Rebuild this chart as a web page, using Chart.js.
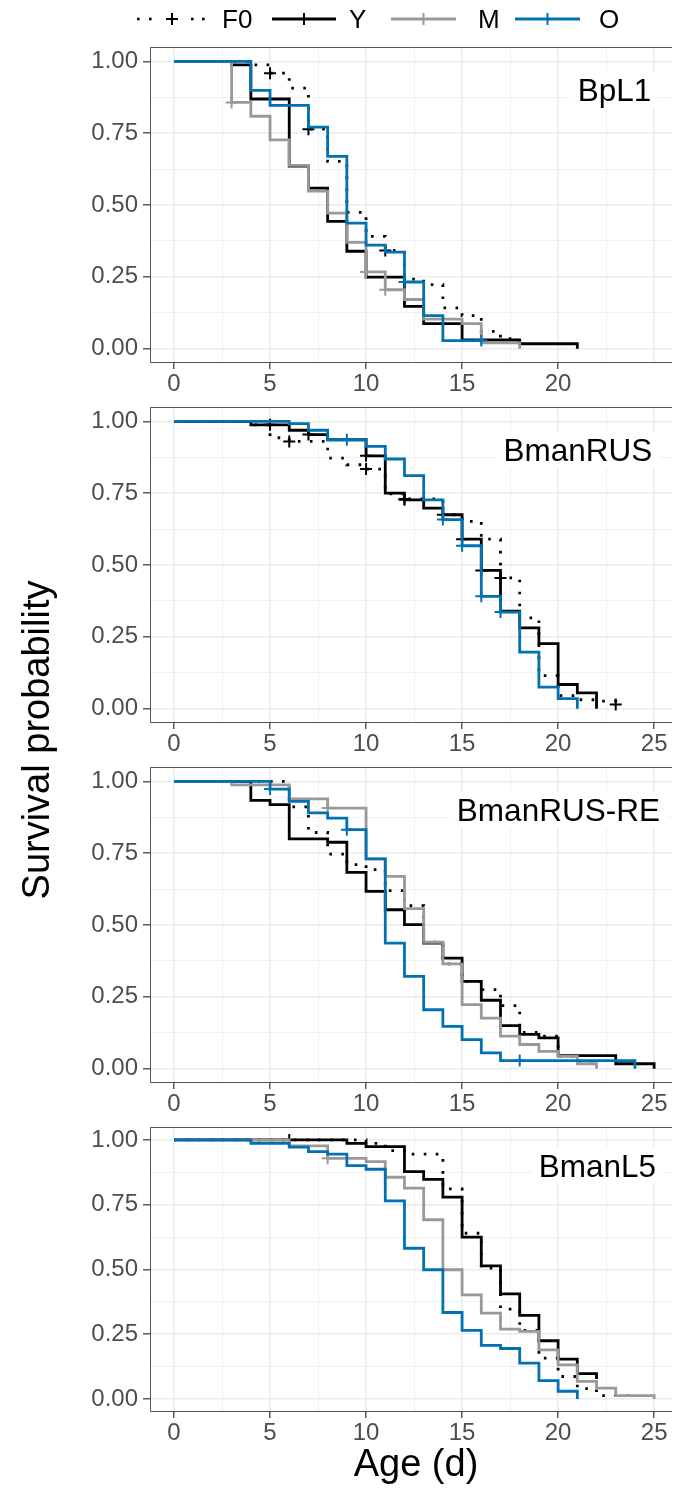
<!DOCTYPE html>
<html lang="en">
<head>
<meta charset="UTF-8">
<title>Survival probability by age</title>
<script src="https://cdn.jsdelivr.net/npm/chart.js@4.4.0/dist/chart.umd.min.js"></script>
<style>
  body { margin: 0; background: #fff; }
  #page { position: relative; width: 680px; height: 1490px; overflow: hidden; background: #fff; }
  #page canvas { position: absolute; left: 0; }
  #overlay { position: absolute; left: 0; top: 0; }
</style>
</head>
<body>
<div id="page">
  <canvas id="c1"></canvas>
  <canvas id="c2"></canvas>
  <canvas id="c3"></canvas>
  <canvas id="c4"></canvas>
  <svg id="overlay" width="680" height="1490" font-family="Liberation Sans, Arial, sans-serif">
    <!-- legend -->
    <g fill="#000">
      <rect x="137" y="17.7" width="2.6" height="2.6"/>
      <rect x="149" y="17.7" width="2.6" height="2.6"/>
      <rect x="191" y="17.7" width="2.6" height="2.6"/>
      <rect x="202" y="17.7" width="2.6" height="2.6"/>
    </g>
    <path d="M166 19h12M172 13v12" stroke="#000" stroke-width="2" fill="none"/>
    <text x="222" y="28.3" font-size="26" fill="#000">F0</text>
    <path d="M272 19h64" stroke="#000" stroke-width="2.8"/>
    <path d="M298 19h12M304 13v12" stroke="#000" stroke-width="2"/>
    <text x="349" y="28.3" font-size="26" fill="#000">Y</text>
    <path d="M391 19h65" stroke="#999999" stroke-width="2.8"/>
    <path d="M417.5 19h12M423.5 13v12" stroke="#999999" stroke-width="2"/>
    <text x="478" y="28.3" font-size="26" fill="#000">M</text>
    <path d="M515 19h65" stroke="#0072B2" stroke-width="2.8"/>
    <path d="M541.5 19h12M547.5 13v12" stroke="#0072B2" stroke-width="2"/>
    <text x="599" y="28.3" font-size="26" fill="#000">O</text>
    <!-- axis titles -->
    <text x="0" y="0" font-size="38" fill="#000" text-anchor="middle"
          transform="translate(49,740) rotate(-90)">Survival probability</text>
    <text x="416" y="1476" font-size="38" fill="#000" text-anchor="middle">Age (d)</text>
  </svg>
</div>

<script>
// ---- axis ticks ----
const xGrid = [0, 2.5, 5, 7.5, 10, 12.5, 15, 17.5, 20, 22.5, 25];
const ageLabels = [0, 5, 10, 15, 20, 25];
const ageLabelsTop = [0, 5, 10, 15, 20];
const yGrid = [0, 0.125, 0.25, 0.375, 0.5, 0.625, 0.75, 0.875, 1];
const survLabels = [0, 0.25, 0.5, 0.75, 1];

const groups = ['F0', 'Y', 'M', 'O'];
const panelNames = ['BpL1', 'BmanRUS', 'BmanRUS-RE', 'BmanL5'];

// ---- BpL1 ----
const bpl1F0Time = [0, 4, 5, 6, 7, 8, 9, 10, 11, 12, 13, 14, 15, 16, 17, 18];
const bpl1F0Surv = [1, 0.988, 0.959, 0.907, 0.764, 0.652, 0.474, 0.391, 0.342, 0.242, 0.223, 0.142, 0.115, 0.06, 0.035, 0];
const bpl1F0Cens = [5, 7, 11];
const bpl1YTime = [0, 3, 4, 6, 7, 8, 9, 10, 12, 13, 15, 18, 21];
const bpl1YSurv = [1, 0.988, 0.869, 0.635, 0.559, 0.443, 0.339, 0.249, 0.147, 0.087, 0.03, 0.017, 0];
const bpl1YCens = [];
const bpl1MTime = [0, 3, 4, 5, 6, 7, 8, 9, 10, 11, 12, 13, 15, 16, 18];
const bpl1MSurv = [1, 0.857, 0.809, 0.727, 0.638, 0.548, 0.472, 0.37, 0.267, 0.205, 0.171, 0.103, 0.087, 0.02, 0];
const bpl1MCens = [3, 10, 11];
const bpl1OTime = [0, 4, 5, 7, 8, 9, 10, 11, 12, 13, 14, 16];
const bpl1OSurv = [1, 0.899, 0.847, 0.771, 0.669, 0.437, 0.36, 0.336, 0.232, 0.115, 0.028, 0.028];
const bpl1OCens = [12, 16];

// ---- BmanRUS ----
const rusF0Time = [0, 4, 5, 6, 8, 9, 10, 11, 12, 14, 15, 16, 17, 18, 19, 20, 21, 22, 23];
const rusF0Surv = [1, 0.988, 0.943, 0.93, 0.872, 0.849, 0.834, 0.748, 0.73, 0.675, 0.652, 0.59, 0.455, 0.316, 0.115, 0.045, 0.031, 0.026, 0.014];
const rusF0Cens = [6, 10, 12, 17, 23];
const rusYTime = [0, 4, 6, 7, 8, 10, 11, 12, 13, 14, 15, 16, 17, 18, 19, 20, 21, 22];
const rusYSurv = [1, 0.988, 0.969, 0.954, 0.936, 0.88, 0.75, 0.727, 0.698, 0.675, 0.59, 0.481, 0.339, 0.281, 0.226, 0.084, 0.055, 0];
const rusYCens = [5, 7, 10, 12, 14, 15, 16];
const rusOTime = [0, 6, 7, 8, 10, 11, 12, 13, 14, 15, 16, 17, 18, 19, 20, 21];
const rusOSurv = [1, 0.992, 0.969, 0.936, 0.913, 0.869, 0.811, 0.727, 0.658, 0.567, 0.391, 0.336, 0.197, 0.075, 0.035, 0];
const rusOCens = [9, 14, 15, 16, 17];

// ---- BmanRUS-RE ----
const reF0Time = [0, 6, 7, 8, 9, 10, 11, 12, 13, 14, 15, 16, 17, 18, 19, 20, 21, 22];
const reF0Surv = [1, 0.911, 0.822, 0.747, 0.71, 0.693, 0.62, 0.567, 0.44, 0.365, 0.304, 0.275, 0.219, 0.126, 0.113, 0.043, 0.026, 0.017];
const reF0Cens = [];
const reYTime = [0, 4, 5, 6, 8, 9, 10, 11, 12, 13, 14, 15, 16, 17, 18, 19, 20, 23, 25];
const reYSurv = [1, 0.934, 0.919, 0.8, 0.788, 0.683, 0.617, 0.553, 0.501, 0.437, 0.385, 0.304, 0.238, 0.15, 0.119, 0.107, 0.045, 0.017, 0];
const reYCens = [];
const reMTime = [0, 3, 6, 8, 10, 11, 12, 13, 14, 15, 16, 17, 18, 19, 20, 21, 22];
const reMSurv = [1, 0.988, 0.939, 0.907, 0.73, 0.669, 0.557, 0.44, 0.365, 0.223, 0.176, 0.113, 0.084, 0.06, 0.043, 0.017, 0];
const reMCens = [8];
const reOTime = [0, 5, 6, 7, 8, 9, 10, 11, 12, 13, 14, 15, 16, 17, 24];
const reOSurv = [1, 0.973, 0.93, 0.89, 0.872, 0.832, 0.73, 0.437, 0.321, 0.205, 0.147, 0.101, 0.055, 0.028, 0];
const reOCens = [5, 9, 18];

// ---- BmanL5 ----
const l5F0Time = [0, 10, 11, 12, 14, 15, 16, 17, 18, 19, 20, 21, 22, 24];
const l5F0Surv = [1, 0.987, 0.959, 0.945, 0.811, 0.64, 0.505, 0.347, 0.265, 0.158, 0.087, 0.04, 0.013, 0];
const l5F0Cens = [];
const l5YTime = [0, 9, 10, 12, 13, 14, 15, 16, 17, 18, 19, 20, 21, 22];
const l5YSurv = [1, 0.987, 0.974, 0.878, 0.848, 0.779, 0.625, 0.514, 0.406, 0.323, 0.225, 0.154, 0.098, 0.077];
const l5YCens = [6];
const l5MTime = [0, 6, 8, 10, 11, 12, 13, 14, 15, 16, 17, 18, 19, 20, 21, 22, 23, 25];
const l5MSurv = [1, 0.977, 0.929, 0.916, 0.856, 0.814, 0.692, 0.499, 0.402, 0.332, 0.27, 0.261, 0.19, 0.132, 0.068, 0.042, 0.013, 0];
const l5MCens = [8];
const l5OTime = [0, 4, 6, 7, 8, 9, 10, 11, 12, 13, 14, 15, 16, 17, 18, 19, 20, 21];
const l5OSurv = [1, 0.987, 0.972, 0.955, 0.945, 0.901, 0.887, 0.765, 0.582, 0.499, 0.334, 0.265, 0.207, 0.195, 0.139, 0.071, 0.03, 0];
const l5OCens = [];

const panelCurves = [
  { F0: [bpl1F0Time, bpl1F0Surv, bpl1F0Cens], Y: [bpl1YTime, bpl1YSurv, bpl1YCens], M: [bpl1MTime, bpl1MSurv, bpl1MCens], O: [bpl1OTime, bpl1OSurv, bpl1OCens] },
  { F0: [rusF0Time, rusF0Surv, rusF0Cens], Y: [rusYTime, rusYSurv, rusYCens], O: [rusOTime, rusOSurv, rusOCens] },
  { F0: [reF0Time, reF0Surv, reF0Cens], Y: [reYTime, reYSurv, reYCens], M: [reMTime, reMSurv, reMCens], O: [reOTime, reOSurv, reOCens] },
  { F0: [l5F0Time, l5F0Surv, l5F0Cens], Y: [l5YTime, l5YSurv, l5YCens], M: [l5MTime, l5MSurv, l5MCens], O: [l5OTime, l5OSurv, l5OCens] }
];

// ---- look ----
const FONT = '"Liberation Sans", Arial, Helvetica, sans-serif';
const styles = {
  F0: { color: '#000000', dash: [2.6, 9.4], order: 8 },
  Y:  { color: '#000000', dash: [], order: 6 },
  M:  { color: '#999999', dash: [], order: 4 },
  O:  { color: '#0072B2', dash: [], order: 2 }
};
// pixel frame of each panel (top, bottom of the plotting area) and right edge of its label (x units)
const frames = [[47, 363], [407, 723], [767, 1083], [1127, 1412]];
const labelRight = [24.85, 24.9, 25.3, 25.1];
const PAD_TOP = 22, AXIS_H = 50, AXIS_W = 150;

function survAt(times, surv, t) {
  let v = surv[0];
  for (let i = 0; i < times.length; i++) if (times[i] <= t) v = surv[i];
  return v;
}
const isMult = (v, step) => Math.abs(v / step - Math.round(v / step)) < 1e-6;

const panelLabel = {
  id: 'panelLabel',
  beforeDatasetsDraw(chart, args, opts) {
    const { ctx, scales } = chart;
    ctx.save();
    ctx.font = '31.5px ' + FONT;
    const w = ctx.measureText(opts.text).width;
    const right = scales.x.getPixelForValue(opts.right);
    const base = scales.y.getPixelForValue(0.9) + 11.3;
    ctx.fillStyle = '#ffffff';
    ctx.fillRect(right - w - 7, base - 30, w + 14, 37);
    ctx.fillStyle = '#000000';
    ctx.textAlign = 'right';
    ctx.textBaseline = 'alphabetic';
    ctx.fillText(opts.text, right, base);
    ctx.restore();
  }
};

const panelBorder = {
  id: 'panelBorder',
  afterDraw(chart) {
    const { ctx, chartArea: a } = chart;
    ctx.save();
    ctx.strokeStyle = '#555555';
    ctx.lineWidth = 1;
    ctx.beginPath();
    ctx.moveTo(a.right, a.top + 0.5);
    ctx.lineTo(a.left + 0.5, a.top + 0.5);
    ctx.lineTo(a.left + 0.5, a.bottom - 0.5);
    ctx.lineTo(a.right, a.bottom - 0.5);
    ctx.stroke();
    ctx.restore();
  }
};

panelNames.forEach((name, idx) => {
  const [top, bottom] = frames[idx];
  const canvas = document.getElementById('c' + (idx + 1));
  canvas.width = 680;
  canvas.height = bottom - top + PAD_TOP + AXIS_H;
  canvas.style.top = (top - PAD_TOP) + 'px';

  const labels = idx === 0 ? ageLabelsTop : ageLabels;
  const curves = panelCurves[idx];
  const datasets = [];
  groups.forEach(g => {
    if (!curves[g]) return;
    const [times, surv, cens] = curves[g];
    const st = styles[g];
    datasets.push({
      label: g,
      data: times.map((t, i) => ({ x: t, y: surv[i] })),
      borderColor: st.color,
      borderWidth: 2.8,
      borderDash: st.dash,
      borderCapStyle: 'butt',
      stepped: 'before',
      pointRadius: 0,
      fill: false,
      order: st.order
    });
    datasets.push({
      label: g + ' censored',
      data: cens.map(t => ({ x: t, y: survAt(times, surv, t) })),
      showLine: false,
      pointStyle: 'cross',
      pointRadius: 6,
      pointBorderWidth: 2,
      pointBorderColor: st.color,
      borderColor: st.color,
      order: st.order - 1
    });
  });

  new Chart(canvas, {
    type: 'line',
    data: { datasets },
    options: {
      responsive: false,
      animation: false,
      layout: { padding: { top: PAD_TOP, left: 0, right: 0, bottom: 0 } },
      plugins: {
        legend: { display: false },
        tooltip: { enabled: false },
        panelLabel: { text: name, right: labelRight[idx] }
      },
      scales: {
        x: {
          type: 'linear',
          min: -1.25,
          max: 25.93,
          afterBuildTicks: ax => { ax.ticks = xGrid.map(v => ({ value: v })); },
          afterFit: ax => { ax.height = AXIS_H; },
          border: { display: false },
          grid: {
            color: c => isMult(c.tick.value, 5) ? '#ebebeb' : '#f0f0f0',
            lineWidth: c => isMult(c.tick.value, 5) ? 1.6 : 1,
            tickColor: c => labels.includes(c.tick.value) ? '#333333' : 'rgba(0,0,0,0)',
            tickLength: 6,
            tickWidth: 1.2
          },
          ticks: {
            autoSkip: false,
            maxRotation: 0,
            padding: 1,
            color: '#4d4d4d',
            font: { family: FONT, size: 24 },
            callback: v => labels.includes(v) ? String(v) : ''
          }
        },
        y: {
          min: -0.05,
          max: 1.05,
          afterBuildTicks: ax => { ax.ticks = yGrid.map(v => ({ value: v })); },
          afterFit: ax => { ax.width = AXIS_W; },
          border: { display: false },
          grid: {
            color: c => isMult(c.tick.value, 0.25) ? '#ebebeb' : '#f0f0f0',
            lineWidth: c => isMult(c.tick.value, 0.25) ? 1.6 : 1,
            tickColor: c => isMult(c.tick.value, 0.25) ? '#333333' : 'rgba(0,0,0,0)',
            tickLength: 7,
            tickWidth: 1.2
          },
          ticks: {
            autoSkip: false,
            padding: 5,
            color: '#4d4d4d',
            font: { family: FONT, size: 24 },
            callback: v => survLabels.some(s => Math.abs(s - v) < 1e-6) ? v.toFixed(2) : ''
          }
        }
      }
    },
    plugins: [panelLabel, panelBorder]
  });
});
</script>
</body>
</html>
